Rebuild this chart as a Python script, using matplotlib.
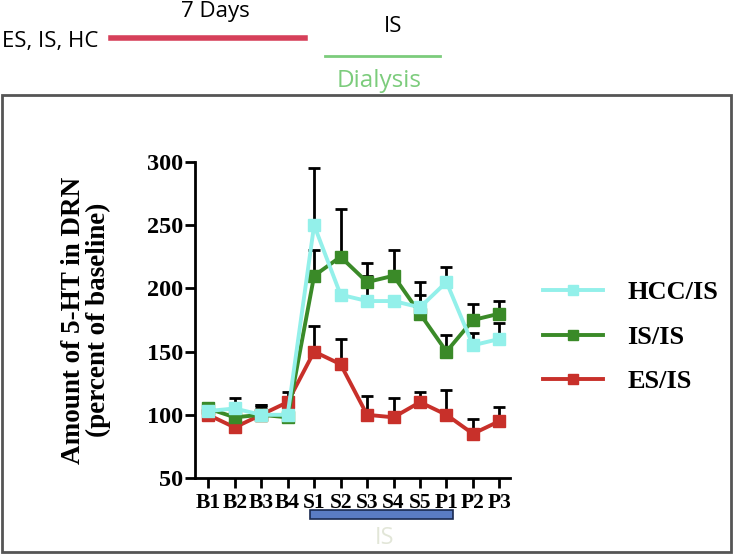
import matplotlib
matplotlib.use("Agg")
import matplotlib.pyplot as plt
from matplotlib.lines import Line2D
from matplotlib.patches import Rectangle
import numpy as np

categories = ["B1", "B2", "B3", "B4", "S1", "S2", "S3", "S4", "S5", "P1", "P2", "P3"]
hcc_is = [103, 105, 100, 100, 250, 195, 190, 190, 185, 205, 155, 160]
hcc_err = [6, 8, 6, 5, 45, 0, 20, 0, 20, 12, 10, 13]
is_is = [105, 98, 100, 98, 210, 225, 205, 210, 180, 150, 175, 180]
is_err = [4, 10, 8, 6, 20, 38, 15, 20, 15, 13, 13, 10]
es_is = [100, 90, 100, 110, 150, 140, 100, 98, 110, 100, 85, 95]
es_err = [6, 8, 8, 8, 20, 20, 15, 15, 8, 20, 12, 11]
yticks = [50, 100, 150, 200, 250, 300]

W, H = 735, 555
fig = plt.figure(figsize=(W / 100, H / 100), dpi=100)

def fx(px):
    return px / W

def fy(py):
    return 1 - py / H

ax = fig.add_axes([fx(195), fy(478), fx(510) - fx(195), fy(162) - fy(478)])
x = np.arange(len(categories))

series = [
    ("ES/IS", es_is, es_err, "#c8302a"),
    ("IS/IS", is_is, is_err, "#3a8a28"),
    ("HCC/IS", hcc_is, hcc_err, "#93f0ea"),
]
handles = {}
for name, vals, errs, col in series:
    vals = np.array(vals, dtype=float)
    errs = np.array(errs, dtype=float)
    ax.errorbar(x, vals, yerr=[np.zeros_like(errs), errs], fmt="none",
                ecolor="black", elinewidth=2, capsize=4.5, capthick=2, zorder=2)
    ln, = ax.plot(x, vals, color=col, lw=2.8, marker="s", markersize=9,
                  markeredgecolor=col, zorder=3)
    handles[name] = ln

ax.set_xlim(-0.5, 11.4)
ax.set_ylim(50, 300)
ax.set_yticks(yticks)
ax.set_xticks(x)
ax.set_xticklabels(categories)
for s in ["top", "right"]:
    ax.spines[s].set_visible(False)
for s in ["left", "bottom"]:
    ax.spines[s].set_linewidth(2)
ax.tick_params(axis="both", direction="out", width=2, length=7)
ax.tick_params(axis="y", pad=1.5)
ax.tick_params(axis="x", pad=4)
for lab in ax.get_yticklabels():
    lab.set_fontfamily("Liberation Serif")
    lab.set_fontweight("bold")
    lab.set_fontsize(17.5)
for lab in ax.get_xticklabels():
    lab.set_fontfamily("Liberation Serif")
    lab.set_fontweight("bold")
    lab.set_fontsize(15.5)

fig.text(fx(86), fy(320), "Amount of 5-HT in DRN\n(percent of baseline)", rotation=90,
         ha="center", va="center", family="Liberation Serif", weight="bold",
         fontsize=19.5, linespacing=0.95)

leg = fig.legend([handles["HCC/IS"], handles["IS/IS"], handles["ES/IS"]],
                 ["HCC/IS", "IS/IS", "ES/IS"], loc="center left",
                 bbox_to_anchor=(fx(519), fy(337)), frameon=False,
                 prop={"family": "Liberation Serif", "weight": "bold", "size": 19},
                 handlelength=2.3, labelspacing=0.8, handletextpad=0.9,
                 markerscale=0.85)

# blue bar under stimulation period
ax.add_patch(Rectangle((3.86, -0.130), 5.4, 0.029, transform=ax.get_xaxis_transform(),
                       facecolor="#5a7cc4", edgecolor="#1a2a50", lw=1.2, clip_on=False))
fig.text(fx(384), fy(538), "IS", ha="center", va="center", color="#e2e6d8",
         fontsize=17, family="Open Sans")

# outer frame
fig.add_artist(Rectangle((fx(2), fy(552)), fx(731) - fx(2), fy(95) - fy(552),
                         transform=fig.transFigure, fill=False, edgecolor="#555555", lw=2))

# top schematic
fig.text(fx(2), fy(41), "ES, IS, HC", ha="left", va="center", fontsize=16,
         family="Open Sans", color="black")
fig.add_artist(Line2D([fx(111), fx(305)], [fy(38), fy(38)], transform=fig.transFigure,
                      color="#d6405a", lw=4))
fig.text(fx(215), fy(11), "7 Days", ha="center", va="center", fontsize=16,
         family="Open Sans", color="black")
fig.text(fx(393), fy(27), "IS", ha="center", va="center", fontsize=16,
         family="Open Sans", color="black")
fig.add_artist(Line2D([fx(325), fx(440)], [fy(56), fy(56)], transform=fig.transFigure,
                      color="#7ccc7c", lw=2))
fig.text(fx(379), fy(81), "Dialysis", ha="center", va="center", fontsize=17.5,
         family="Open Sans", color="#7ccc7c")

fig.savefig("out.png", dpi=100)
